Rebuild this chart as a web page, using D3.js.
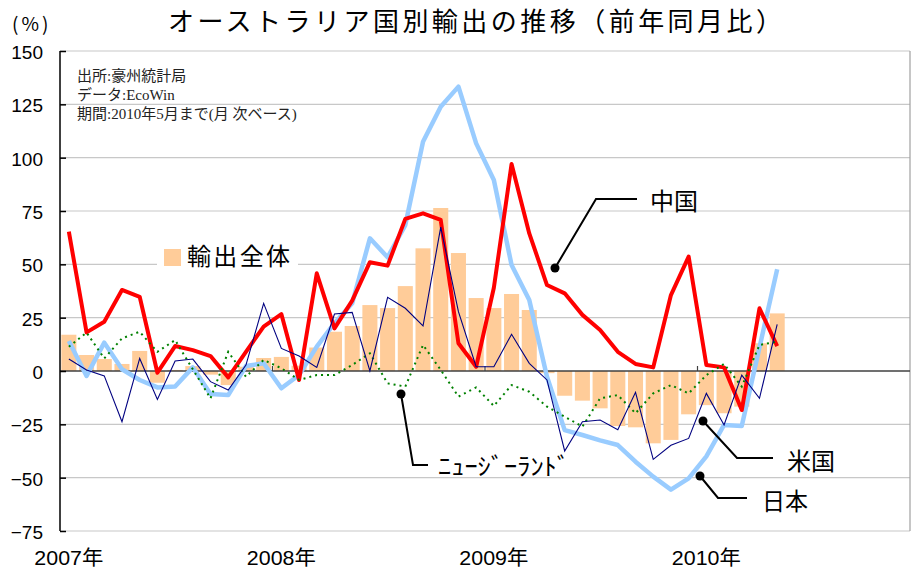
<!DOCTYPE html>
<html><head><meta charset="utf-8">
<script src="https://cdn.jsdelivr.net/npm/d3@7"></script>
<style>
body{margin:0;background:#fff;}
svg{display:block;}
text{font-family:"Liberation Sans","Noto Sans CJK JP",sans-serif;}
</style></head>
<body><svg id="c" width="915" height="572"></svg>
<script>
// ---- data (monthly, Jan 2007 - May 2010, % y/y) ----
const months = [
 "2007-01","2007-02","2007-03","2007-04","2007-05","2007-06","2007-07","2007-08","2007-09","2007-10","2007-11","2007-12",
 "2008-01","2008-02","2008-03","2008-04","2008-05","2008-06","2008-07","2008-08","2008-09","2008-10","2008-11","2008-12",
 "2009-01","2009-02","2009-03","2009-04","2009-05","2009-06","2009-07","2009-08","2009-09","2009-10","2009-11","2009-12",
 "2010-01","2010-02","2010-03","2010-04","2010-05","2010-06","2010-07","2010-08","2010-09","2010-10","2010-11","2010-12"];
const yearTicks = ["2007-01","2008-01","2009-01","2010-01"];
const yearLabels = ["2007年","2008年","2009年","2010年"];
const yTicks = [-75,-50,-25,0,25,50,75,100,125,150];

const totalExports = [17,7.5,5.6,3.3,9.4,-5.5,0.5,2.3,-1.7,-6.6,2,6.1,
  6.6,2.5,11,18.4,21.1,30.9,29.5,39.8,57.5,76.4,55.3,34.2,
  29.5,36.1,28.6,-1,-11.6,-13.9,-17.5,-25.8,-26.4,-33.9,-32.3,-20.3,
  -16,-19.8,-16.7,13,27];
const china = [65.3,18.1,23.1,38,34.8,-0.8,11.7,9.8,7,-3,9,20.8,
  26.7,-4.2,45.8,20,33,51,49.4,71.3,73.9,70.8,13,2,
  39,97,64.5,40.3,36.4,26.3,19.2,9,3.3,1.7,35.6,53.6,
  2.8,1.7,-18.3,29.4,11.7];
const japan = [14.1,-2.3,13.3,0.8,-4.2,-7.7,-7.3,1.7,-10.8,-11.3,2.3,3.6,
  -8.1,-1.9,11.4,22.4,31.7,62.2,53.3,68.4,107.5,123.9,133.3,106.7,
  89.5,49.7,33.3,-2.7,-27.7,-30,-32.5,-34.7,-42.5,-49.5,-55.6,-50.3,
  -40,-25.3,-25.8,11,47.7];
const usa = [5.6,0.5,-2.3,-23.8,5.9,-13.3,4.7,5.6,-5,-8.9,2.8,31.7,
  10.6,7,1.7,26.7,27.5,0.1,34.5,29.4,21.1,67.4,27.8,2,
  2,17.2,3.6,-4.2,-37.5,-23.8,-23,-27.5,-10,-41.4,-34.8,-31.6,
  -10.5,-25.3,-1.9,-12.8,21.9];
const newZealand = [11.4,18,5.9,15.3,18.4,9,14.5,0.8,-12.8,9,-2.7,5.2,
  1.3,-4.2,-1.9,-1.9,2.8,8.3,-5.8,-7.3,12.2,0.5,-12,-7.7,
  -16.4,-6.6,-9.7,-16.7,-21.4,-26.1,-12.8,-11.3,-19.8,-10.5,-6.6,-10.5,
  -1.9,3.3,-7.3,12.2,13.8];

const titleText = "オーストラリア国別輸出の推移（前年同月比）";
const sourceLines = ["出所:豪州統計局","データ:EcoWin","期間:2010年5月まで(月 次ベース)"];

// ---- layout ----
const svg = d3.select("#c");
const L=60, R=910, T=51, B=531;
const x = d3.scaleBand().domain(months).range([L,R]).paddingInner(0.15).paddingOuter(0.075);
const y = d3.scaleLinear().domain([-75,150]).range([B,T]);
const cx = i => x(months[i]) + x.bandwidth()/2;

// gridlines
svg.append("g").selectAll("line").data(yTicks.filter(v=>v!==0)).join("line")
  .attr("x1",L).attr("x2",R).attr("y1",d=>y(d)).attr("y2",d=>y(d))
  .attr("stroke","#c8c8c8").attr("stroke-width",1.2);
// right border
svg.append("line").attr("x1",R).attr("x2",R).attr("y1",T).attr("y2",B).attr("stroke","#a0a0a0").attr("stroke-width",1.2);

// bars
svg.append("g").selectAll("rect").data(totalExports).join("rect")
  .attr("x",(d,i)=>x(months[i])).attr("width",x.bandwidth())
  .attr("y",d=>y(Math.max(0,d))).attr("height",d=>Math.abs(y(d)-y(0)))
  .attr("fill","#ffcc99");

// zero line + year ticks
svg.append("line").attr("x1",L).attr("x2",R).attr("y1",y(0)).attr("y2",y(0)).attr("stroke","#404040").attr("stroke-width",1.5);
const step = x.step();
svg.append("g").selectAll("line").data(yearTicks.slice(1)).join("line")
  .attr("x1",d=>x(d)+x.bandwidth()/2-step/2).attr("x2",d=>x(d)+x.bandwidth()/2-step/2)
  .attr("y1",y(0)).attr("y2",y(0)-5).attr("stroke","#404040").attr("stroke-width",1.2);

// left axis
const yAxis = d3.axisLeft(y).tickValues(yTicks).tickSize(-6).tickPadding(17).tickFormat(d3.format("d"));
const ga = svg.append("g").attr("transform",`translate(${L},0)`).call(yAxis);
ga.select(".domain").attr("stroke","#000").attr("stroke-width",1.5).attr("d",`M0,${T}V${B}`);
ga.selectAll(".tick line").attr("stroke","#000").attr("stroke-width",1.5);
ga.selectAll(".tick text").attr("font-size",19).attr("fill","#000").attr("dy","0.4em")
  .style("font-family","'Liberation Sans',sans-serif");

// bottom labels
const gx = svg.append("g").attr("transform",`translate(0,${B})`)
  .call(d3.axisBottom(x).tickValues(yearTicks).tickSize(0).tickPadding(20)
    .tickFormat(d=>yearLabels[yearTicks.indexOf(d)]));
gx.select(".domain").remove();
gx.selectAll(".tick text").attr("font-size",20).attr("fill","#000")
  .attr("textLength",69).attr("lengthAdjust","spacingAndGlyphs");

// lines
const line = arr => d3.line().x((d,i)=>cx(i)).y(d=>y(d))(arr);
svg.append("path").attr("d",line(japan)).attr("fill","none").attr("stroke","#99ccff").attr("stroke-width",4.5).attr("stroke-linejoin","round");
svg.append("path").attr("d",line(china)).attr("fill","none").attr("stroke","#ff0000").attr("stroke-width",4).attr("stroke-linejoin","round");
svg.append("path").attr("d",line(newZealand)).attr("fill","none").attr("stroke","#008000").attr("stroke-width",2).attr("stroke-dasharray","2,4");
svg.append("path").attr("d",line(usa)).attr("fill","none").attr("stroke","#000080").attr("stroke-width",1.1);

// title and units
svg.append("text").attr("x",168).attr("y",31).attr("font-size",26).attr("textLength",614)
  .style("font-family","'Noto Sans CJK JP',sans-serif").text(titleText);
svg.append("text").attr("x",12).attr("y",31).attr("font-size",19).attr("letter-spacing",3)
  .style("font-family","'Noto Sans CJK JP',sans-serif").text("(%)");

// source note
svg.append("g").selectAll("text").data(sourceLines).join("text")
  .attr("x",77).attr("y",(d,i)=>81+i*19).attr("font-size",15).attr("fill","#222")
  .style("font-family","'Liberation Serif','Noto Sans CJK JP',serif").text(d=>d);

// legend
svg.append("rect").attr("x",157).attr("y",240).attr("width",141).attr("height",32).attr("fill","#fff");
svg.append("rect").attr("x",164).attr("y",249).attr("width",17).attr("height",17).attr("fill","#ffcc99");
svg.append("text").attr("x",187).attr("y",265).attr("font-size",24).attr("textLength",103)
  .style("font-family","'Noto Sans CJK JP',sans-serif").text("輸出全体");

// callouts
function callout(pts, label, tx, ty, len){
  svg.append("path").attr("d",d3.line()(pts)).attr("fill","none").attr("stroke","#000").attr("stroke-width",2);
  svg.append("circle").attr("cx",pts[0][0]).attr("cy",pts[0][1]).attr("r",4.5).attr("fill","#000");
  const t = svg.append("text").attr("x",tx).attr("y",ty).attr("font-size",24)
    .style("font-family","'Noto Sans CJK JP',sans-serif").text(label);
  if(len) t.attr("textLength",len).attr("lengthAdjust","spacingAndGlyphs");
}
callout([[555,268],[596,199],[637,199]],"中国",650,210,48);
callout([[401,394],[413,465],[428,465]],"ﾆｭｰｼﾞｰﾗﾝﾄﾞ",438,475,132);
callout([[703,421],[737,458],[773,458]],"米国",787,470,48);
callout([[700,476],[718,498],[747,498]],"日本",762,510,46);
</script></body></html>
